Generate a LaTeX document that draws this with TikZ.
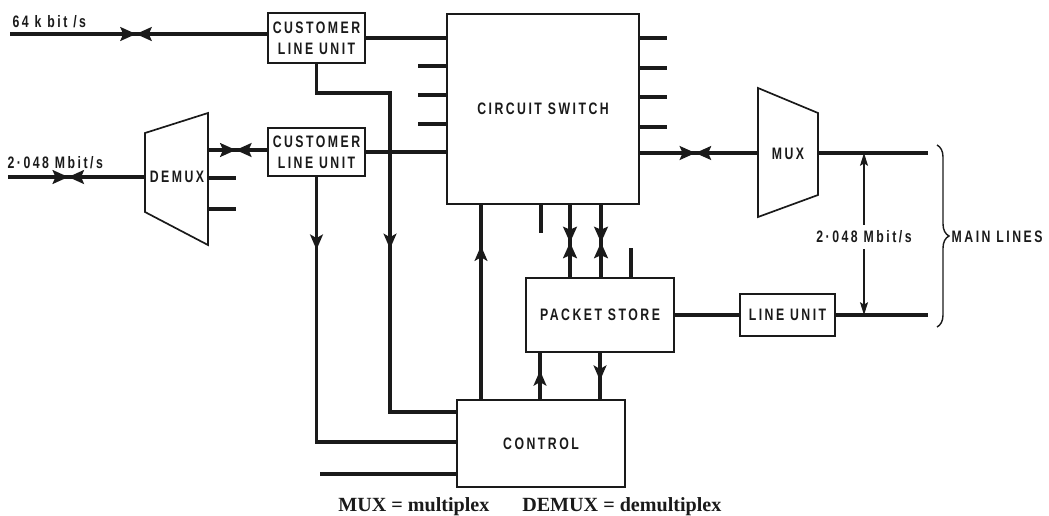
\documentclass[tikz,border=0pt]{standalone}
\usepackage{fontspec}
\setmainfont{Liberation Serif}
\newfontfamily\blockfont[FakeStretch=0.74,LetterSpace=15]{Liberation Sans}
\usetikzlibrary{arrows.meta,decorations.markings,decorations.pathreplacing}
\newlength\gu
\setlength\gu{0.025cm}
\definecolor{swInk}{HTML}{1A1A1A}
\tikzset{
  sw box/.style={draw=swInk, line width=1.2pt, fill=white, align=center,
    font=\blockfont\bfseries\fontsize{11.8}{15}\selectfont, text=swInk, inner sep=0pt},
  sw edge/.style={draw=swInk, line width=1.2pt},
  sw bus/.style={draw=swInk, line width=2.4pt},
  sw thin/.style={draw=swInk, line width=1pt},
  sw label/.style={font=\blockfont\bfseries\fontsize{11.8}{15}\selectfont, text=swInk, inner sep=1pt},
  sw caption/.style={font=\bfseries\fontsize{14.3}{16}\selectfont, text=swInk, inner sep=0pt},
  sw bowtie/.style={postaction={decorate}, decoration={markings, mark=at position #1 with {
      \fill[swInk] (0,0) -- (-4mm,1.8mm) -- (-3.2mm,0) -- (-4mm,-1.8mm) -- cycle;
      \fill[swInk] (0,0) -- (4mm,1.8mm) -- (3.2mm,0) -- (4mm,-1.8mm) -- cycle;}}},
  sw tip/.style={postaction={decorate}, decoration={markings, mark=at position #1 with {
      \arrow{Stealth[length=3.8mm,width=3.2mm,inset=0.9mm]}}}},
  sw double/.style={draw=swInk, line width=1pt, -{Stealth[length=3.2mm,width=2mm,inset=0.6mm]}}
}
\begin{document}
\begin{tikzpicture}[x=0.025cm, y=-0.025cm]
  \useasboundingbox (0,0) rectangle (1049,515);

  \node[sw box, minimum width=97\gu, minimum height=50\gu] (clua) at (316.5,38) {CUSTOMER\\LINE UNIT};
  \node[sw box, minimum width=97\gu, minimum height=48\gu] (club) at (316.5,152) {CUSTOMER\\LINE UNIT};
  \node[sw box, minimum width=192\gu, minimum height=190\gu] (cs) at (543,109) {CIRCUIT SWITCH};
  \node[sw box, minimum width=148\gu, minimum height=74\gu] (ps) at (600,315) {PACKET STORE};
  \node[sw box, minimum width=168\gu, minimum height=87\gu] (ctrl) at (541,443.5) {CONTROL};
  \node[sw box, minimum width=95\gu, minimum height=42\gu] (lu) at (787.5,315) {LINE UNIT};

  \draw[sw edge] (145,133) -- (208,113) -- (208,245) -- (145,212) -- cycle;
  \node[sw label] (demux) at (177,177) {DEMUX};
  \draw[sw edge] (758,88) -- (818,113) -- (818,195) -- (758,217) -- cycle;
  \node[sw label] (mux) at (788,154) {MUX};

  \coordinate (in64) at (10,34);
  \coordinate (in2m) at (8,177);
  \coordinate (dmxIn) at (145,177);
  \coordinate (dmxOut) at (208,150);
  \coordinate (muxIn) at (758,153);
  \coordinate (muxOut) at (818,153);
  \coordinate (mlA) at (928,153);
  \coordinate (mlB) at (928,315);
  \coordinate (c1) at (390,93);
  \coordinate (c2) at (390,412);

  \node[sw label, anchor=west] (rate64) at (11,22) {64 k bit /s};
  \node[sw label, anchor=west] (rate2m) at (6,163) {2·048 Mbit/s};

  % customer side
  \draw[sw bus, sw bowtie=0.49] (in64) -- (in64 -| clua.west);
  \draw[sw bus] (clua.east) -- (clua.east -| cs.west);
  \draw[sw bus, sw bowtie=0.44] (in2m) -- (dmxIn);
  \draw[sw bus, sw bowtie=0.47] (dmxOut) -- (dmxOut -| club.west);
  \foreach \yy in {178,209} \draw[sw bus] (208,\yy) -- (236,\yy);
  \draw[sw bus] (club.east) -- (club.east -| cs.west);
  \foreach \yy in {66,95,124} \draw[sw bus] (418,\yy) -- (cs.west |- 0,\yy);
  \foreach \yy in {38,68,97,127} \draw[sw bus] (cs.east |- 0,\yy) -- (667,\yy);

  % main line side
  \draw[sw bus, sw bowtie=0.47] (cs.east |- muxIn) -- (muxIn);
  \draw[sw bus] (muxOut) -- (mlA);
  \draw[sw bus] (ps.east) -- (lu.west);
  \draw[sw bus] (lu.east) -- (mlB);
  \node[sw label, inner ysep=1.5mm] (rate) at (864,237) {2·048 Mbit/s};
  \draw[sw double] (rate.north) -- (rate.north |- mlA);
  \draw[sw double] (rate.south) -- (rate.south |- mlB);
  \draw[sw thin, decorate, decoration={brace, amplitude=3mm}] (937,145) -- (937,327);
  \node[sw label, anchor=west] (main) at (950,237) {MAIN LINES};

  % control paths
  \draw[sw bus, sw tip=0.53] (clua.south) |- (c1) -- (c2) -- (c2 -| ctrl.west);
  \draw[sw bus, sw tip=0.18] (club.south) |- (ctrl.west |- 0,442);
  \draw[sw bus] (320,474) -- (ctrl.west |- 0,474);
  \draw[sw bus, sw tip=0.79] (ctrl.north -| 481,0) -- (cs.south -| 481,0);
  \draw[sw bus] (cs.south -| 541,0) -- (541,233);
  \foreach \xx in {570,601} \draw[sw bus, sw bowtie=0.52] (cs.south -| \xx,0) -- (ps.north -| \xx,0);
  \draw[sw bus] (ps.north -| 631,0) -- (631,248);
  \draw[sw bus, sw tip=0.62] (ctrl.north -| 540,0) -- (ps.south -| 540,0);
  \draw[sw bus, sw tip=0.6] (ps.south -| 600,0) -- (ctrl.north -| 600,0);

  \node[sw caption, anchor=base west] (capMux) at (338,511) {MUX = multiplex};
  \node[sw caption, anchor=base west] (capDemux) at (522,511) {DEMUX = demultiplex};
\end{tikzpicture}
\end{document}
